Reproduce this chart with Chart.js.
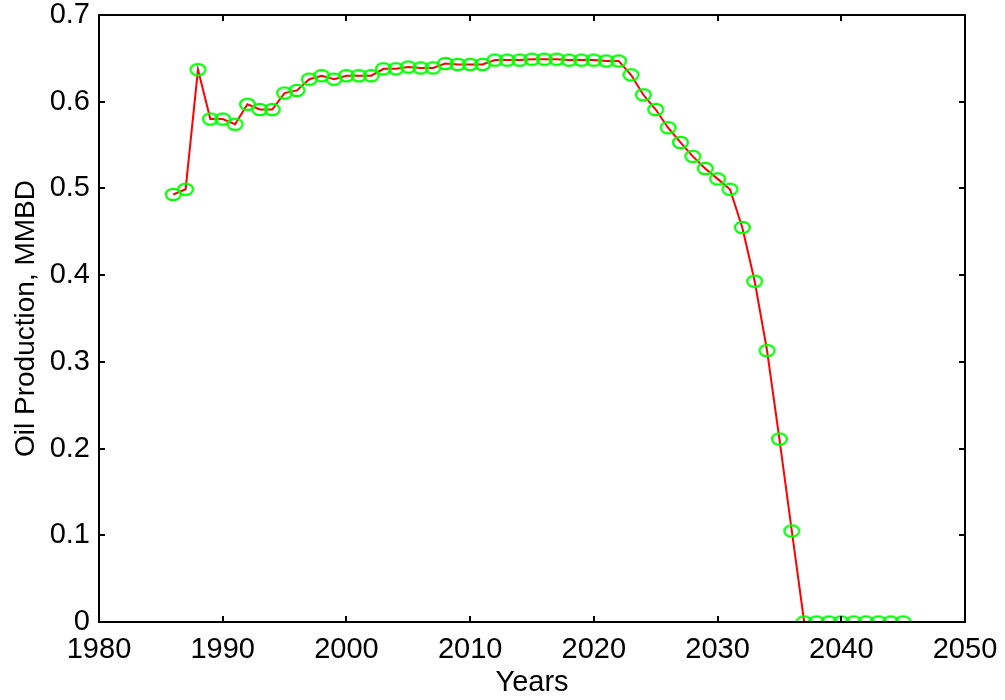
<!DOCTYPE html>
<html>
<head>
<meta charset="utf-8">
<title>Oil Production</title>
<script src="https://cdn.jsdelivr.net/npm/chart.js@4/dist/chart.umd.min.js"></script>
<style>
  html, body { margin: 0; padding: 0; background: #fff; }
  #wrap { width: 1005px; height: 700px; }
</style>
</head>
<body>
<div id="wrap"><canvas id="chart" width="1005" height="700"></canvas></div>
<script>
// Years on the x axis
var years = [1986, 1987, 1988, 1989, 1990, 1991, 1992, 1993, 1994, 1995,
  1996, 1997, 1998, 1999, 2000, 2001, 2002, 2003, 2004, 2005,
  2006, 2007, 2008, 2009, 2010, 2011, 2012, 2013, 2014, 2015,
  2016, 2017, 2018, 2019, 2020, 2021, 2022, 2023, 2024, 2025,
  2026, 2027, 2028, 2029, 2030, 2031, 2032, 2033, 2034, 2035,
  2036, 2037, 2038, 2039, 2040, 2041, 2042, 2043, 2044, 2045];

// Oil production, MMBD
var production = [0.493, 0.499, 0.637, 0.580, 0.580, 0.574, 0.597, 0.591, 0.591, 0.610,
  0.613, 0.626, 0.630, 0.626, 0.630, 0.630, 0.630, 0.638, 0.638, 0.640,
  0.639, 0.639, 0.644, 0.643, 0.643, 0.643, 0.648, 0.648, 0.648, 0.649,
  0.649, 0.649, 0.648, 0.648, 0.648, 0.647, 0.647, 0.631, 0.608, 0.591,
  0.570, 0.553, 0.537, 0.523, 0.511, 0.499, 0.455, 0.393, 0.313, 0.211,
  0.105, 0, 0, 0, 0, 0, 0, 0, 0, 0];

var xTicks = [1980, 1990, 2000, 2010, 2020, 2030, 2040, 2050];
var yTickLabels = ['0', '0.1', '0.2', '0.3', '0.4', '0.5', '0.6', '0.7'];

var FONT = '"Liberation Sans", Arial, sans-serif';

// hollow ellipse marker, wider than tall
function makeMarker() {
  var c = document.createElement('canvas');
  c.width = 19;
  c.height = 15;
  var ctx = c.getContext('2d');
  ctx.strokeStyle = '#00ff00';
  ctx.lineWidth = 2.2;
  ctx.beginPath();
  ctx.ellipse(9.5, 7.5, 7.4, 5.7, 0, 0, Math.PI * 2);
  ctx.stroke();
  return c;
}

// white background, box frame and inward ticks on all four sides
var framePlugin = {
  id: 'frame',
  beforeDraw: function(chart) {
    var ctx = chart.ctx;
    ctx.save();
    ctx.fillStyle = '#fff';
    ctx.fillRect(0, 0, chart.width, chart.height);
    ctx.restore();
  },
  afterDraw: function(chart) {
    var a = chart.chartArea;
    var xs = chart.scales.x;
    var ys = chart.scales.y;
    var ctx = chart.ctx;
    var len = 6;
    ctx.save();
    ctx.strokeStyle = '#000';
    ctx.lineWidth = 2;
    ctx.beginPath();
    xs.ticks.forEach(function(t) {
      var px = Math.round(xs.getPixelForValue(t.value));
      ctx.moveTo(px, a.bottom);
      ctx.lineTo(px, a.bottom - len);
      ctx.moveTo(px, a.top);
      ctx.lineTo(px, a.top + len);
    });
    ys.ticks.forEach(function(t) {
      var py = Math.round(ys.getPixelForValue(t.value));
      ctx.moveTo(a.left, py);
      ctx.lineTo(a.left + len, py);
      ctx.moveTo(a.right, py);
      ctx.lineTo(a.right - len, py);
    });
    ctx.stroke();
    ctx.strokeRect(a.left, a.top, a.right - a.left, a.bottom - a.top);
    ctx.restore();
  }
};

var points = years.map(function(y, i) {
  return { x: y, y: production[i] };
});

new Chart(document.getElementById('chart'), {
  type: 'line',
  data: {
    datasets: [{
      data: points,
      borderColor: '#ff0000',
      borderWidth: 2,
      tension: 0,
      fill: false,
      pointStyle: makeMarker(),
      pointRadius: 7,
      pointHoverRadius: 7
    }]
  },
  options: {
    responsive: false,
    animation: false,
    events: [],
    layout: { padding: { top: 15, right: 40, bottom: 0, left: 0 } },
    plugins: {
      legend: { display: false },
      tooltip: { enabled: false }
    },
    scales: {
      x: {
        type: 'linear',
        min: 1980,
        max: 2050,
        afterBuildTicks: function(scale) {
          scale.ticks = xTicks.map(function(v) { return { value: v }; });
        },
        afterFit: function(scale) {
          scale.height = 78;
          scale.paddingLeft = 0;
          scale.paddingRight = 0;
        },
        ticks: {
          color: '#000',
          font: { family: FONT, size: 29 },
          padding: 11,
          maxRotation: 0,
          callback: function(v) { return String(v); }
        },
        grid: { display: false, drawTicks: false },
        border: { display: false },
        title: {
          display: true,
          text: 'Years',
          color: '#000',
          font: { family: FONT, size: 29 },
          padding: { top: 0, bottom: 0 }
        }
      },
      y: {
        type: 'linear',
        min: 0,
        max: 0.7,
        afterFit: function(scale) {
          scale.width = 99;
          scale.paddingTop = 0;
          scale.paddingBottom = 0;
        },
        ticks: {
          stepSize: 0.1,
          color: '#000',
          font: { family: FONT, size: 29 },
          padding: 9,
          callback: function(v, i) { return yTickLabels[i]; }
        },
        grid: { display: false, drawTicks: false },
        border: { display: false },
        title: {
          display: true,
          text: 'Oil Production, MMBD',
          color: '#000',
          font: { family: FONT, size: 28 },
          padding: { top: 9, bottom: 8 }
        }
      }
    }
  },
  plugins: [framePlugin]
});
</script>
</body>
</html>
